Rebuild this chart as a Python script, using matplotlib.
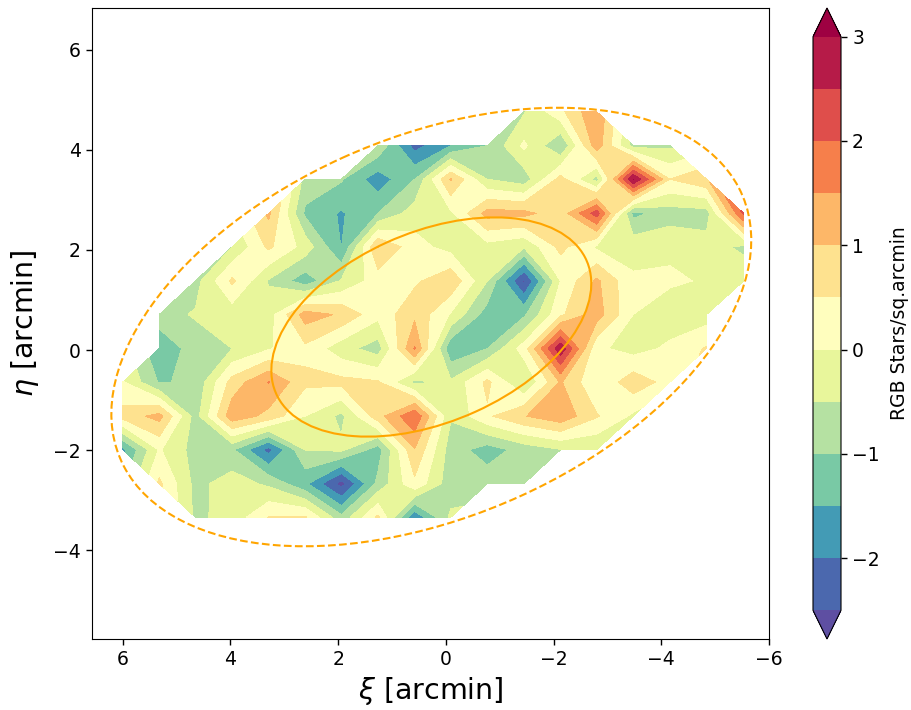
import numpy as np
import matplotlib
matplotlib.use('Agg')
import matplotlib.pyplot as plt
from matplotlib.patches import Ellipse

n = np.nan

# grid of the density map, xi runs from east to west
xi = [6.0, 5.32, 4.65, 3.97, 3.29, 2.61, 1.94, 1.26, 0.58, -0.09, -0.77, -1.45, -2.13, -2.8, -3.48, -4.16, -4.84, -5.53]
eta = [-3.34, -2.67, -1.99, -1.32, -0.64, 0.03, 0.71, 1.38, 2.06, 2.73, 3.41, 4.08, 4.76]

# one row per eta, lowest first
row_0 = [n, n, -.6, -.33, .52, .55, -.85, .6, -1.9, -.4, n, n, n, n, n, n, n, n]
row_1 = [n, .6, -.65, -.25, -.6, -1.4, -2.7, -.85, .38, -.8, -.7, -.6, n, n, n, n, n, n]
row_2 = [-1.65, .05, -.7, -.92, -2.2, -.48, -.4, -1.25, .97, -.75, -1.25, -.8, -.52, -.48, n, n, n, n]
row_3 = [.7, 1.18, -.73, 1.33, .84, 0., -.62, .8, 1.95, -.45, .42, .97, 1.35, .55, -.1, n, n, n]
row_4 = [.05, -1.05, -.9, .7, 1.52, .6, .65, .55, -.62, -.42, .62, -.55, 1.05, .05, .81, .3, n, n]
row_5 = [n, -1.4, -.75, -.5, -.05, .38, -.3, -.75, 1.55, -1.4, -1., .25, 2.88, .1, -.2, .1, .55, n]
row_6 = [n, -.7, -.45, -.3, -.24, 1.25, .92, .15, .88, -.05, -1.25, -1.1, .4, 1.25, 0., -.3, -.25, n]
row_7 = [n, n, -.7, .6, -.55, -1.3, -.45, .25, .4, .9, -.5, -2.6, .02, 1.1, .06, .08, -.05, -.2]
row_8 = [n, n, n, -.5, .6, -.2, -1.52, 1.02, .2, -.2, -.2, -.45, .65, -.09, -.15, -.1, -.3, -.6]
row_9 = [n, n, n, n, 1.1, -1.1, -1.56, -1., -.25, -.1, 1.2, 1.15, .7, 2.25, -1.15, -.75, -.72, 2.1]
row_10 = [n, n, n, n, n, -.7, -.95, -1.8, -1., 1.05, -.5, -.8, .7, -.7, 3.02, .5, .9, n]
row_11 = [n, n, n, n, n, n, n, -.6, -2.2, -1.5, -1., .1, -1., 1.3, -.7, -.6, n, n]
row_12 = [n, n, n, n, n, n, n, n, n, n, n, -.55, .37, 1.45, n, n, n, n]

density = np.ma.masked_invalid([row_0, row_1, row_2, row_3, row_4, row_5, row_6,
                                row_7, row_8, row_9, row_10, row_11, row_12])

levels = [-2.5, -2, -1.5, -1, -0.5, 0, 0.5, 1, 1.5, 2, 2.5, 3]
cbar_ticks = [-2, -1, 0, 1, 2, 3]

# half light radius ellipse and twice that
center = (0.27, 0.46)
semi_major = 3.175
semi_minor = 1.88
angle = 154

W, H = 911, 710
fig = plt.figure(figsize=(W / 100, H / 100), dpi=100)
ax = fig.add_axes([92 / W, 1 - 639 / H, 677 / W, 631 / H])

cf = ax.contourf(xi, eta, density, levels=levels, cmap='Spectral_r', extend='both')

ax.add_patch(Ellipse(center, 2 * semi_major, 2 * semi_minor, angle=angle,
                     fill=False, ec='orange', lw=1.5))
ax.add_patch(Ellipse(center, 4 * semi_major, 4 * semi_minor, angle=angle,
                     fill=False, ec='orange', lw=1.5, ls='--'))

ax.set_xlim(6.57, -6.0)
ax.set_ylim(-5.77, 6.83)
ax.set_xticks([6, 4, 2, 0, -2, -4, -6])
ax.set_yticks([-4, -2, 0, 2, 4, 6])
ax.tick_params(labelsize=13.5, length=4.5, width=1)
ax.set_xlabel(r'$\xi$ [arcmin]', fontsize=20.5, labelpad=4)
ax.set_ylabel(r'$\eta$ [arcmin]', fontsize=20.5, labelpad=9)

cax = fig.add_axes([813 / W, 1 - 639 / H, 28 / W, 631 / H])
cbar = fig.colorbar(cf, cax=cax, ticks=cbar_ticks)
cbar.ax.tick_params(labelsize=13.5, length=4.5, width=1)
cbar.set_label('RGB Stars/sq.arcmin', fontsize=13.5, labelpad=7.5)

fig.savefig('out.png', dpi=100)
